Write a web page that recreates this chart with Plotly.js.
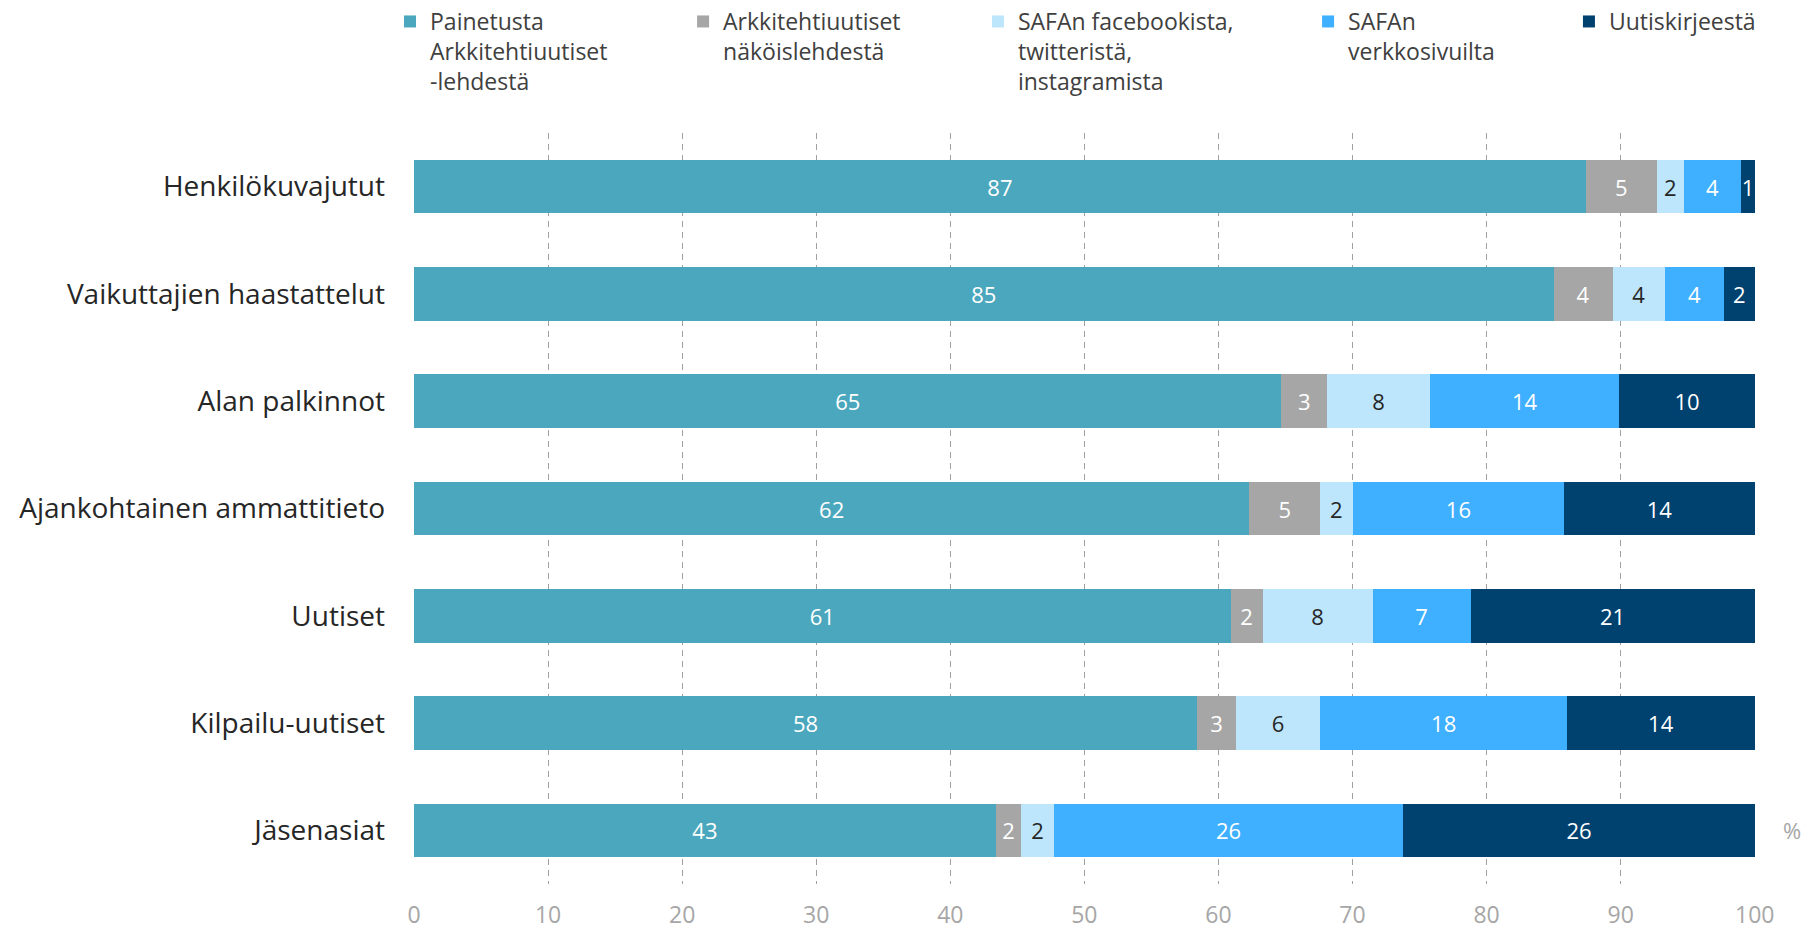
<!DOCTYPE html>
<html>
<head>
<meta charset="utf-8">
<script src="https://cdn.plot.ly/plotly-3.0.1.min.js"></script>
<style>html,body{margin:0;padding:0;background:#fff;}#chart{width:1809px;height:931px;}</style>
</head>
<body>
<div id="chart"></div>
<script>
const categories = ['Henkilökuvajutut','Vaikuttajien haastattelut','Alan palkinnot','Ajankohtainen ammattitieto','Uutiset','Kilpailu-uutiset','Jäsenasiat'];
const seriesNames = ['Painetusta<br>Arkkitehtiuutiset<br>-lehdestä','Arkkitehtiuutiset<br>näköislehdestä','SAFAn facebookista,<br>twitteristä,<br>instagramista','SAFAn<br>verkkosivuilta','Uutiskirjeestä'];
const printed = [87.4, 85.0, 64.7, 62.3, 60.9, 58.4, 43.4];
const digital = [5.3, 4.4, 3.4, 5.3, 2.4, 2.9, 1.9];
const social  = [2.0, 3.9, 7.7, 2.4, 8.2, 6.3, 2.4];
const website = [4.3, 4.4, 14.1, 15.8, 7.3, 18.4, 26.1];
const newsletter = [1.0, 2.3, 10.1, 14.2, 21.2, 14.0, 26.2];
const tickValues = [0,10,20,30,40,50,60,70,80,90,100];

const seriesValues = [printed, digital, social, website, newsletter];
const colors = ['#4BA7BD','#A6A6A6','#BDE5FB','#3FAFFF','#00426F'];
const textColors = ['#FFFFFF','#FFFFFF','#262626','#FFFFFF','#FFFFFF'];
const legendIds = ['legend','legend2','legend3','legend4','legend5'];
const legendX = [0.2156, 0.3776, 0.5406, 0.7231, 0.8673];
const FONT = '"Open Sans", "Noto Sans", sans-serif';

const traces = seriesValues.map((vals, i) => ({
  type: 'bar',
  orientation: 'h',
  name: seriesNames[i],
  y: categories,
  x: vals,
  marker: {color: colors[i], line: {width: 0}},
  text: vals.map(v => String(Math.round(v))),
  texttemplate: '%{text}',
  textposition: 'inside',
  insidetextanchor: 'middle',
  textangle: 0,
  constraintext: 'none',
  textfont: {family: FONT, size: 22, color: textColors[i]},
  insidetextfont: {family: FONT, size: 22, color: textColors[i]},
  legend: legendIds[i],
  hoverinfo: 'x+y+name'
}));

const layout = {
  width: 1809,
  height: 931,
  margin: {l: 414, r: 54, t: 133, b: 47, autoexpand: false},
  paper_bgcolor: '#FFFFFF',
  plot_bgcolor: '#FFFFFF',
  barmode: 'stack',
  bargap: 0.5,
  font: {family: FONT, color: '#404040'},
  xaxis: {
    range: [0, 100.02],
    tickvals: tickValues,
    showgrid: true,
    gridcolor: '#A0A0A0',
    gridwidth: 1,
    griddash: '6px,5px',
    zeroline: false,
    showline: false,
    ticks: '',
    ticklabelstandoff: 15,
    tickfont: {family: FONT, size: 23, color: '#A6A6A6'},
    automargin: false,
    fixedrange: true
  },
  yaxis: {
    autorange: 'reversed',
    showgrid: false,
    zeroline: false,
    showline: false,
    ticks: '',
    ticklabelstandoff: 28,
    tickfont: {family: FONT, size: 28, color: '#262626'},
    automargin: false,
    fixedrange: true
  },
  showlegend: true,
  annotations: [{
    xref: 'paper', yref: 'y', x: 1.0276, y: categories[categories.length - 1],
    text: '%', showarrow: false, xanchor: 'center', yanchor: 'middle',
    font: {family: FONT, size: 22, color: '#A6A6A6'}
  }]
};

legendIds.forEach((id, i) => {
  layout[id] = {
    xref: 'container', yref: 'container',
    x: legendX[i], xanchor: 'left',
    y: 1.013, yanchor: 'top',
    orientation: 'v',
    valign: 'top',
    bgcolor: 'rgba(0,0,0,0)',
    borderwidth: 0,
    font: {family: FONT, size: 23, color: '#404040'}
  };
});

Plotly.newPlot('chart', traces, layout, {displayModeBar: false, staticPlot: true});
</script>
</body>
</html>
